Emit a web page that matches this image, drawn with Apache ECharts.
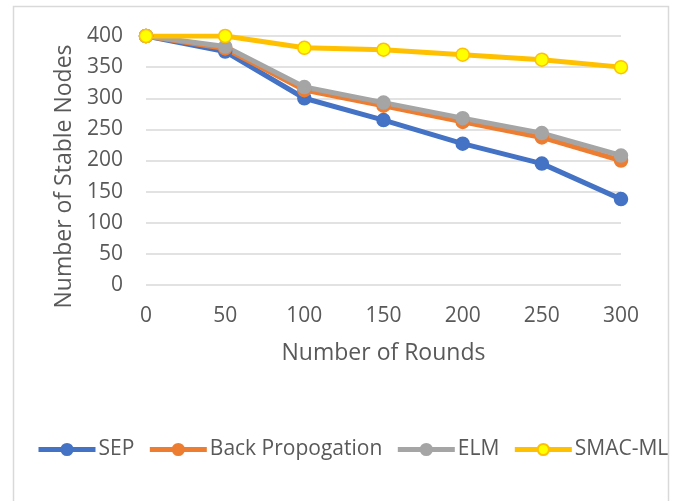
<!DOCTYPE html>
<html><head><meta charset="utf-8">
<script src="https://cdn.jsdelivr.net/npm/echarts@6/dist/echarts.min.js"></script>
<style>html,body{margin:0;padding:0;background:#fff}#c{width:677px;height:501px}</style>
</head><body><div id="c"></div>
<script>
var rounds = ['0','50','100','150','200','250','300'];
var sep = [400, 375, 300, 265, 227, 195, 138];
var backProp = [400, 380, 313, 288, 262, 237, 200];
var elm = [400, 383, 318, 293, 268, 244, 208];
var smac = [400, 400, 381, 378, 370, 362, 350];
var yTicks = {min: 0, max: 400, interval: 50};

var FONT = 'Open Sans';
function mk(name, data, color, fill) {
  return {
    name: name, type: 'line', data: data,
    symbol: 'circle', symbolSize: 13,
    lineStyle: {color: color, width: 5},
    itemStyle: {color: fill || color, borderColor: color, borderWidth: 1.5},
    emphasis: {disabled: true}
  };
}
var chart = echarts.init(document.getElementById('c'));
chart.setOption({
  backgroundColor: '#fff',
  animation: false,
  textStyle: {fontFamily: FONT},
  graphic: [{type: 'rect', shape: {x: 13.5, y: 6.5, width: 655, height: 510},
    style: {fill: 'none', stroke: '#D9D9D9', lineWidth: 1.5}, silent: true, z: -1}],
  grid: {left: 146, right: 56, top: 36, bottom: 216},
  legend: {
    left: 36, top: 439, padding: 0, itemGap: 13, itemWidth: 57, itemHeight: 14,
    lineStyle: {width: 5},
    textStyle: {fontSize: 21, color: '#595959', fontFamily: FONT, padding: [0, 0, 0, -2]},
    data: ['SEP', 'Back Propogation', 'ELM', 'SMAC-ML']
  },
  xAxis: {
    type: 'category', data: rounds, boundaryGap: false,
    name: 'Number of Rounds', nameLocation: 'middle', nameGap: 57,
    nameTextStyle: {fontSize: 23, color: '#595959', fontFamily: FONT},
    axisLine: {show: false}, axisTick: {show: false},
    axisLabel: {fontSize: 21, color: '#595959', margin: 21, fontFamily: FONT},
    splitLine: {show: false}
  },
  yAxis: {
    type: 'value', min: yTicks.min, max: yTicks.max, interval: yTicks.interval,
    name: 'Number of Stable Nodes', nameLocation: 'middle', nameGap: 70,
    nameTextStyle: {fontSize: 23, color: '#595959', fontFamily: FONT, padding: [0, 32, 0, 0]},
    axisLine: {show: false}, axisTick: {show: false},
    axisLabel: {fontSize: 21, color: '#595959', margin: 23, fontFamily: FONT},
    splitLine: {lineStyle: {color: '#D9D9D9', width: 1.5}}
  },
  series: [
    mk('SEP', sep, '#4472C4'),
    mk('Back Propogation', backProp, '#ED7D31'),
    mk('ELM', elm, '#A5A5A5'),
    mk('SMAC-ML', smac, '#FFC000', '#FFFF00')
  ]
});
</script></body></html>
